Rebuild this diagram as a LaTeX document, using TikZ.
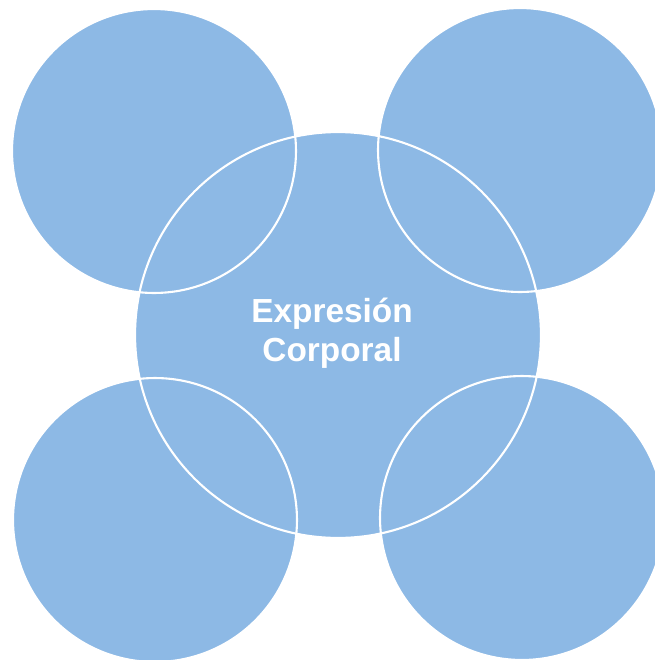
\documentclass[tikz,border=0pt]{standalone}
\usepackage{fontspec}
\newfontfamily\arialfont{Liberation Sans}
\usetikzlibrary{positioning}

\definecolor{bubbleblue}{RGB}{141,185,229}

\begin{document}
\begin{tikzpicture}[x=0.02cm, y=-0.02cm,
    bubble/.style={fill=bubbleblue},
    rim/.style={draw=white, line width=1.2pt},
    title/.style={text=white, font=\arialfont\bfseries\fontsize{19}{22}\selectfont, align=center}]
  \useasboundingbox (0,0) rectangle (655,660);
  \clip (0,0) rectangle (655,660);
  % fills
  \fill[bubble] (154,151) circle (2.84cm);
  \fill[bubble] (520,150) circle (2.84cm);
  \fill[bubble] (155,520) circle (2.84cm);
  \fill[bubble] (522,518) circle (2.84cm);
  \fill[bubble] (338,335) circle (4.06cm);
  % white outlines
  \draw[rim] (154,151) circle (2.84cm);
  \draw[rim] (520,150) circle (2.84cm);
  \draw[rim] (155,520) circle (2.84cm);
  \draw[rim] (522,518) circle (2.84cm);
  \draw[rim] (338,335) circle (4.06cm);
  % label
  \node[title] (centre) at (332,333) {Expresión\\Corporal};
\end{tikzpicture}
\end{document}
